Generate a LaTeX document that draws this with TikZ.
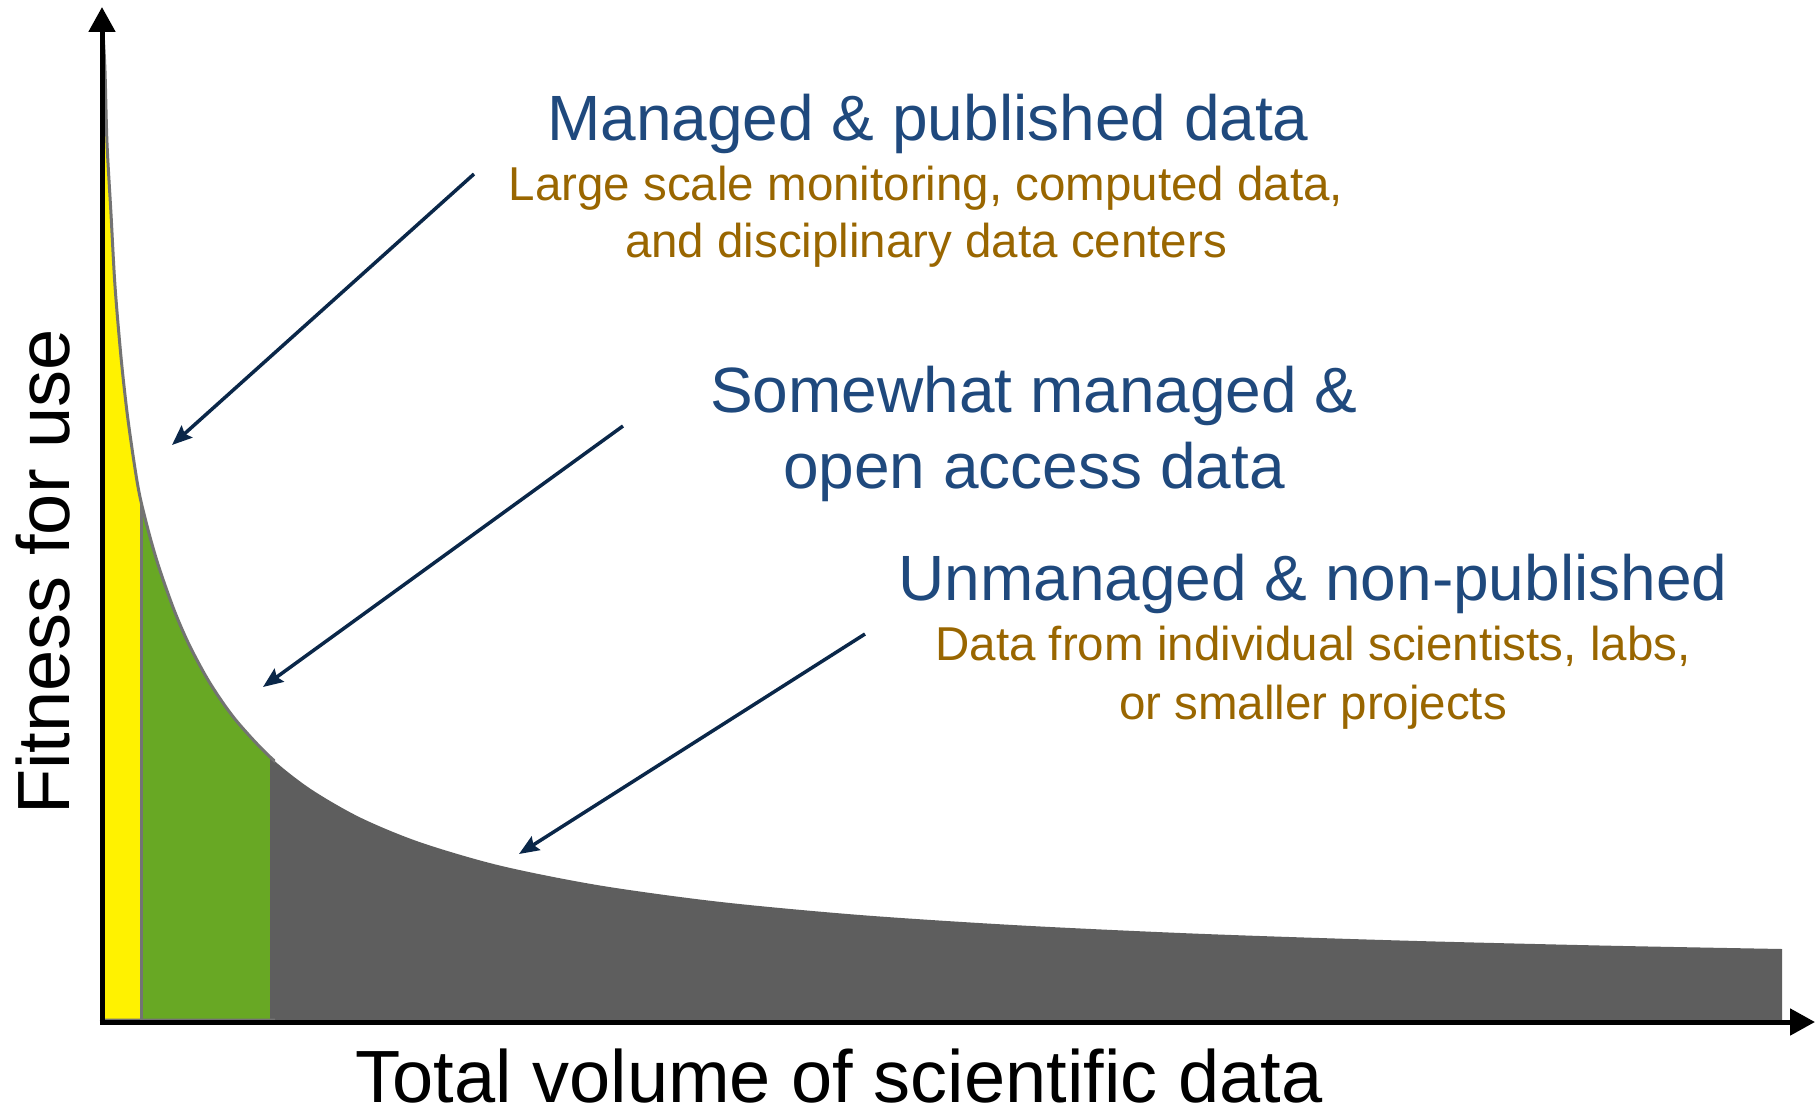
\documentclass[tikz,border=0pt]{standalone}
\usepackage{fontspec}
\setmainfont{Liberation Sans}
\usetikzlibrary{arrows.meta}
\definecolor{tblue}{HTML}{1F497D}
\definecolor{tbrown}{HTML}{996600}
\definecolor{arrowc}{HTML}{0A2749}
\definecolor{fyellow}{HTML}{FFF200}
\definecolor{fgreen}{HTML}{68A824}
\definecolor{fgray}{HTML}{5E5E5E}
\definecolor{edgegray}{HTML}{737373}
\tikzset{
  title/.style={font=\fontsize{64}{76}\selectfont, text=tblue, anchor=base, inner sep=0pt},
  sub/.style={font=\fontsize{47.5}{56}\selectfont, text=tbrown, anchor=base, inner sep=0pt},
  axlabel/.style={font=\fontsize{74}{88}\selectfont, text=black, anchor=base, inner sep=0pt, text depth=0pt},
  pointer/.style={draw=arrowc, line width=3.5pt, -{Stealth[length=20pt,width=16pt,inset=3pt]}},
  axisline/.style={draw=black, line width=5pt, -{Triangle[length=25pt,width=26pt]}},
  edge/.style={draw=edgegray, line width=3pt},
}
\begin{document}
\begin{tikzpicture}[x=1pt,y=-1pt]
\useasboundingbox (0,0) rectangle (1817,1108);
\fill[white] (0,0) rectangle (1817,1108);

% area under the curve
\path[save path=\areapath] (103,1020) -- plot[smooth,tension=0.5] coordinates {
  (103,32) (105,71) (107,143) (111,214) (115,286) (121,357) (127,412) (134,462)
  (140,497) (150,537) (160,570.5) (175,612.4) (190,646.5) (210,683.2) (235,719.1)
  (270,756.9) (310,788.5) (360,817.4) (420,842.2) (500,865.6) (600,885.5)
  (720,901.9) (860,915) (1020,925.4) (1200,933.8) (1400,940.5) (1600,945.5)
  (1782,949)} -- (1782,1020) -- cycle;
\begin{scope}
  \clip[use path=\areapath];
  \fill[fyellow] (95,0) rectangle (141,1022);
  \fill[fgreen] (141,0) rectangle (270,1022);
  \fill[fgray] (270,0) rectangle (1790,1022);
  \draw[edge] (141,1022) -- (141,0);
\end{scope}
\begin{scope}
  \clip (0,0) rectangle (275,1020);
  \draw[edge, use path=\areapath];
\end{scope}

% axes
\coordinate (orig) at (102,1022);
\coordinate (ytip) at (102,7);
\coordinate (xtip) at (1815,1022);
\draw[axisline] (102,1024.5) -- (ytip);
\draw[axisline] (99.5,1022) -- (xtip);

% axis labels
\node[axlabel] (xlab) at (839,1102) {Total volume of scientific data};
\node[axlabel, rotate=90] (ylab) at (69,572) {Fitness for use};

% category texts
\node[title] (t1) at (928,140) {Managed \& published data};
\node[sub] (s1a) at (926,200) {Large scale monitoring, computed data,};
\node[sub] (s1b) at (926,257) {and disciplinary data centers};

\node[title] (t2a) at (1034,412) {Somewhat managed \&};
\node[title] (t2b) at (1034,488) {open access data};

\node[title] (t3) at (1313,600) {Unmanaged \& non-published};
\node[sub] (s3a) at (1313,660) {Data from individual scientists, labs,};
\node[sub] (s3b) at (1313,719) {or smaller projects};

% pointers
\coordinate (a1s) at (474,174);
\coordinate (a1e) at (172,445);
\coordinate (a2s) at (623,426);
\coordinate (a2e) at (263,687);
\coordinate (a3s) at (865,634);
\coordinate (a3e) at (519,854);
\draw[pointer] (a1s) -- (a1e);
\draw[pointer] (a2s) -- (a2e);
\draw[pointer] (a3s) -- (a3e);
\end{tikzpicture}
\end{document}
